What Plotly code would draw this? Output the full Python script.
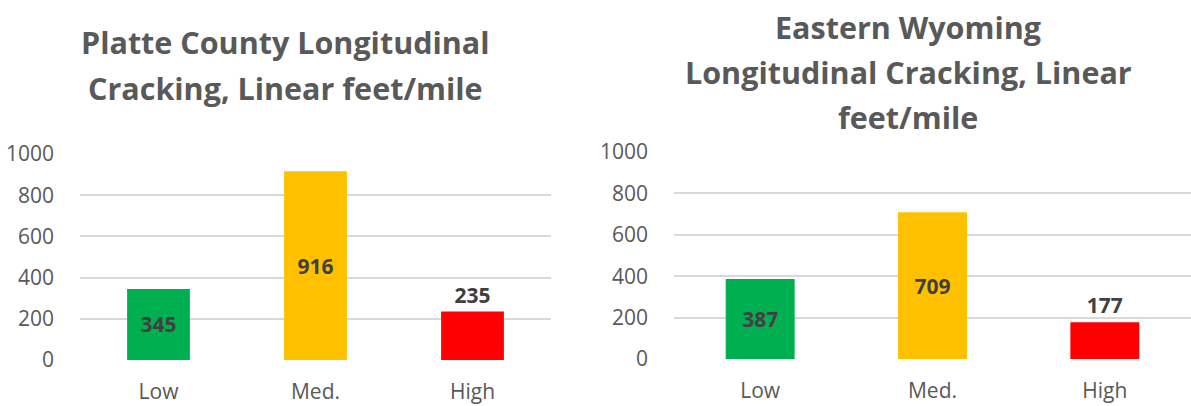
import plotly.graph_objects as go

categories = ["Low", "Med.", "High"]
platte_values = [345, 916, 235]
wyoming_values = [387, 709, 177]
bar_colors = ["#00B050", "#FFC000", "#FF0000"]
label_positions = ["inside", "inside", "outside"]
y_ticks = [0, 200, 400, 600, 800, 1000]

left_title = ["Platte County Longitudinal", "Cracking, Linear feet/mile"]
right_title = ["Eastern Wyoming", "Longitudinal Cracking, Linear", "feet/mile"]

W, H = 1191, 406
FONT = "Open Sans"
GREY = "#595959"

fig = go.Figure()
for vals, xa, ya in [(platte_values, "x", "y"), (wyoming_values, "x2", "y2")]:
    fig.add_trace(go.Bar(
        x=categories, y=vals, xaxis=xa, yaxis=ya,
        marker=dict(color=bar_colors, line=dict(width=0)),
        width=0.4,
        text=[str(v) for v in vals],
        textposition=label_positions,
        insidetextanchor="middle",
        textfont=dict(family=FONT, size=21, color="#404040", weight="bold"),
        cliponaxis=False,
        showlegend=False,
    ))

def px_x(p):
    return p / W

def px_y(p):
    return 1 - p / H

common_y = dict(range=[0, 1000], tickvals=y_ticks, showgrid=True, gridcolor="#D9D9D9",
                gridwidth=1.5, zeroline=False, showline=False, automargin=False,
                tickfont=dict(family=FONT, size=21, color=GREY), ticklabelstandoff=25,
                fixedrange=True)
common_x = dict(showgrid=False, showline=False, zeroline=False, automargin=False,
                tickfont=dict(family=FONT, size=21, color=GREY), ticklabelstandoff=17)

fig.update_layout(
    width=W, height=H,
    margin=dict(l=0, r=0, t=0, b=0, autoexpand=False),
    plot_bgcolor="white", paper_bgcolor="white",
    xaxis=dict(domain=[px_x(80), px_x(551)], anchor="y", **common_x),
    yaxis=dict(anchor="x", domain=[px_y(360), px_y(154)], **common_y),
    xaxis2=dict(domain=[px_x(674), 1.0], anchor="y2", **common_x),
    yaxis2=dict(anchor="x2", domain=[px_y(359), px_y(152)], **common_y),
)

anns = []
for i, line in enumerate(left_title):
    anns.append(dict(text=line, x=px_x(285), y=px_y(42 + 46 * i), xref="paper", yref="paper",
                     xanchor="center", yanchor="middle", showarrow=False,
                     font=dict(family=FONT, size=30.5, color=GREY, weight="bold")))
for i, line in enumerate(right_title):
    anns.append(dict(text=line, x=px_x(908), y=px_y(27 + 45 * i), xref="paper", yref="paper",
                     xanchor="center", yanchor="middle", showarrow=False,
                     font=dict(family=FONT, size=30.5, color=GREY, weight="bold")))
fig.update_layout(annotations=anns)

fig.write_html("out.html", config={"displayModeBar": False},
               post_script="document.body.style.margin='0px';document.body.style.overflow='hidden';")
